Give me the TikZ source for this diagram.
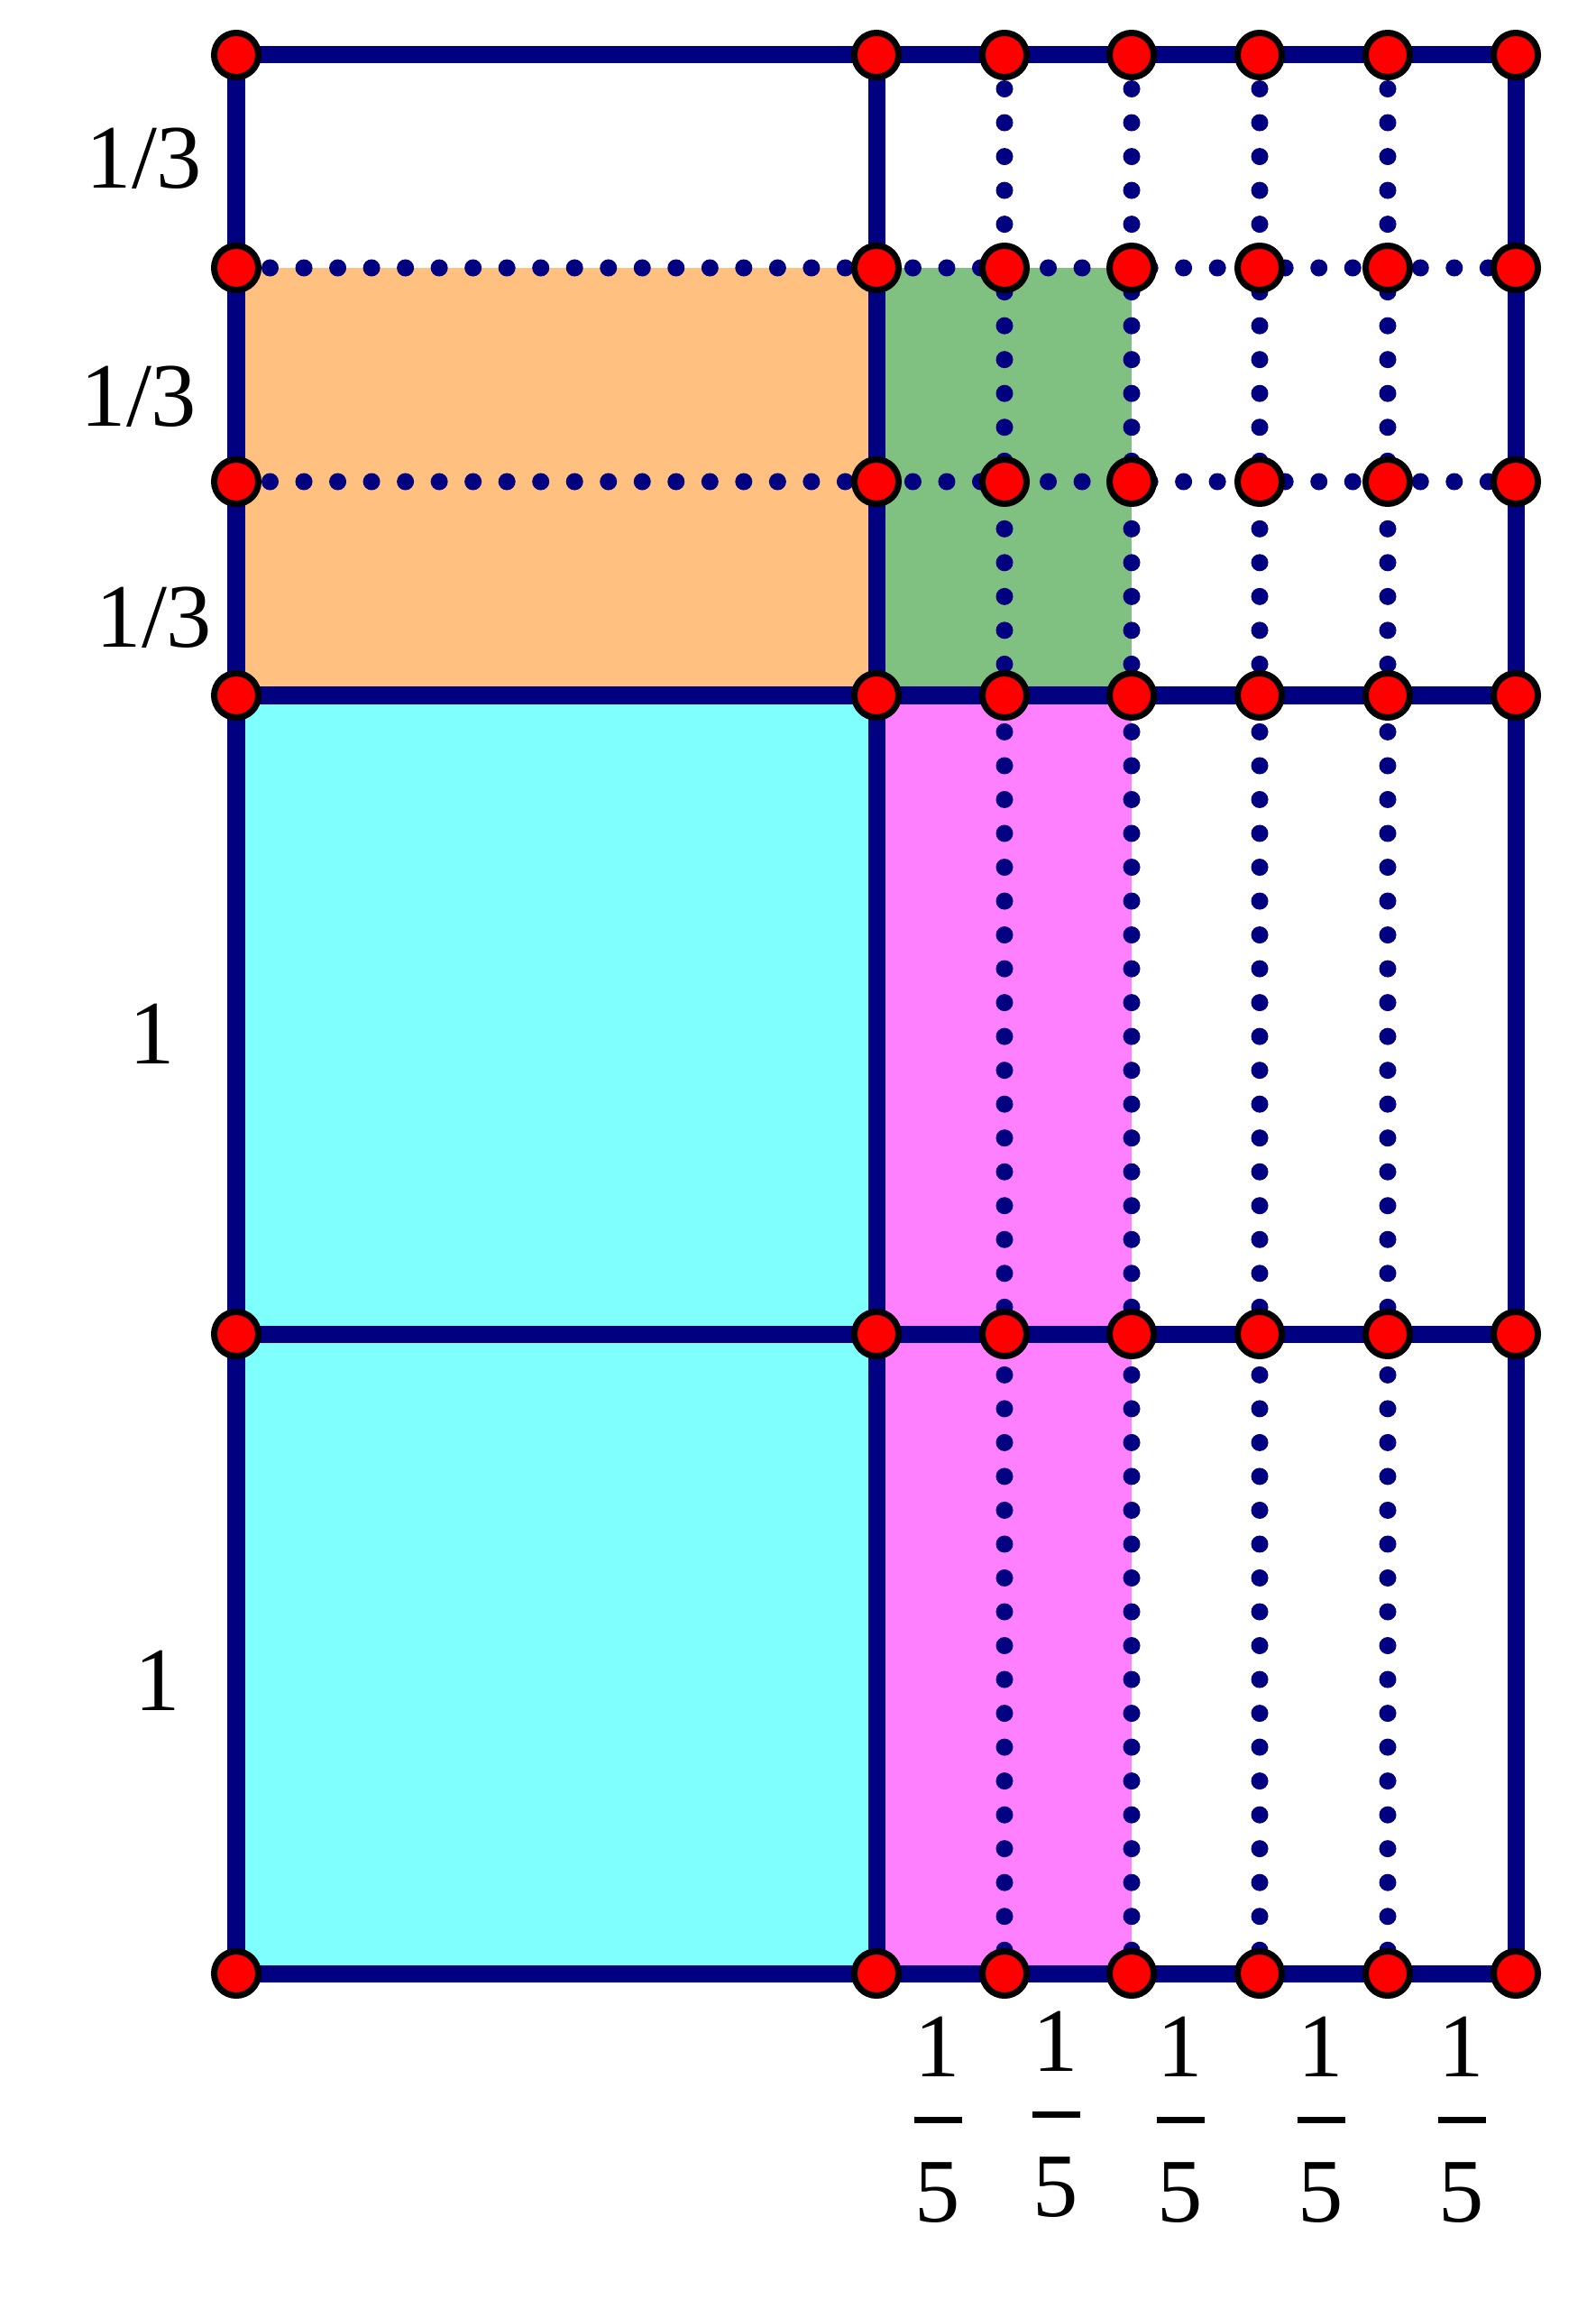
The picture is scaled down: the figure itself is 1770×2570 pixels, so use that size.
\documentclass[tikz,border=0pt]{standalone}
\usepackage{fontspec}
\setmainfont{Liberation Serif}
\definecolor{navy}{RGB}{0,0,128}
\definecolor{orangefill}{RGB}{255,192,128}
\definecolor{greenfill}{RGB}{128,192,128}
\definecolor{cyanfill}{RGB}{128,255,255}
\definecolor{magentafill}{RGB}{255,128,255}
\tikzset{
  solidline/.style={draw=navy, line width=0.19cm, line cap=butt},
  dotline/.style={draw=navy, line width=0.19cm, line cap=round, dash pattern=on 0pt off 0.375cm},
  reddot/.style={circle, fill=red, draw=black, line width=0.07cm, minimum size=0.49cm, inner sep=0pt},
  lbl/.style={anchor=base, inner sep=0pt, font=\fontsize{28.6pt}{34pt}\selectfont},
  fracbar/.style={draw=black, line width=0.07cm}
}
\begin{document}
\begin{tikzpicture}[x=0.01cm,y=-0.01cm]
\useasboundingbox (0,0) rectangle (1770,2570);
\foreach \x [count=\i] in {262,972,1114,1255,1397,1539,1681}{
  \foreach \y [count=\j] in {61,297,534,771,1479,2188}{
    \coordinate (c-\i-\j) at (\x,\y);
  }
}
% fills
\fill[orangefill] (c-1-2) rectangle (c-2-4);
\fill[greenfill] (c-2-2) rectangle (c-4-4);
\fill[cyanfill] (c-1-4) rectangle (c-2-6);
\fill[magentafill] (c-2-4) rectangle (c-4-6);
% dotted lines
\draw[dotline] (c-1-2) -- (c-7-2);
\draw[dotline] (c-1-3) -- (c-7-3);
\foreach \i in {3,4,5,6}{
  \draw[dotline] (c-\i-1) -- (c-\i-6);
}
% solid lines
\draw[solidline] (c-1-1) -- (c-7-1);
\draw[solidline] (c-1-4) -- (c-7-4);
\draw[solidline] (c-1-5) -- (c-7-5);
\draw[solidline] (c-1-6) -- (c-7-6);
\draw[solidline] (c-1-1) -- (c-1-6);
\draw[solidline] (c-2-1) -- (c-2-6);
\draw[solidline] (c-7-1) -- (c-7-6);
% red dots
\foreach \i in {1,...,7}{
  \foreach \j in {1,...,6}{
    \node[reddot] (p-\i-\j) at (c-\i-\j) {};
  }
}
% left labels
\node[lbl] (t1) at (160,209) {1/3};
\node[lbl] (t2) at (154,472) {1/3};
\node[lbl] (t3) at (171,717) {1/3};
\node[lbl] (o1) at (169,1179) {1};
\node[lbl] (o2) at (175,1896) {1};
% bottom fractions
\foreach \x/\dy [count=\k] in {1040/0,1171/-6,1309/0,1465/0,1621/0}{
  \node[lbl] (n\k) at (\x,2302+\dy) {1};
  \node[lbl] (d\k) at (\x,2463+\dy) {5};
  \coordinate (bl\k) at (\x-26.5,2350.5+\dy);
  \coordinate (br\k) at (\x+26.5,2350.5+\dy);
  \draw[fracbar] (bl\k) -- (br\k);
}
\end{tikzpicture}
\end{document}
